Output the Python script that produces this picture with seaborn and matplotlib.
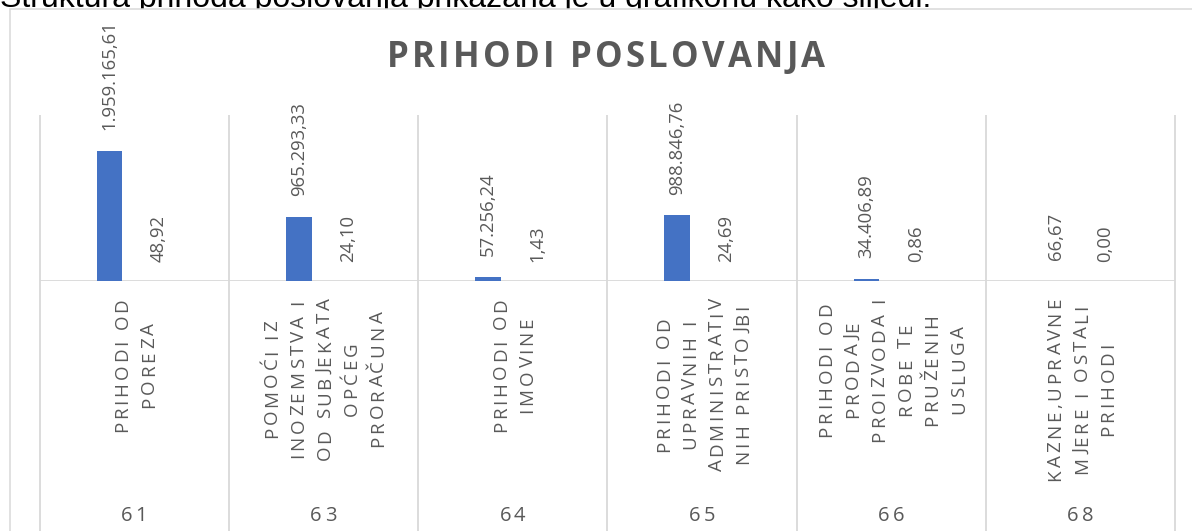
import numpy as np
import pandas as pd
import matplotlib
matplotlib.use("Agg")
import matplotlib.pyplot as plt
import seaborn as sns
from matplotlib.transforms import IdentityTransform, blended_transform_factory
from matplotlib.font_manager import FontProperties
from matplotlib.patches import Rectangle

# ---------------- data ----------------
codes = ["61", "63", "64", "65", "66", "68"]
names = [
    "PRIHODI OD\nPOREZA",
    "POMOĆI IZ\nINOZEMSTVA I\nOD SUBJEKATA\nOPĆEG\nPRORAČUNA",
    "PRIHODI OD\nIMOVINE",
    "PRIHODI OD\nUPRAVNIH I\nADMINISTRATIV\nNIH PRISTOJBI",
    "PRIHODI OD\nPRODAJE\nPROIZVODA I\nROBE TE\nPRUŽENIH\nUSLUGA",
    "KAZNE,UPRAVNE\nMJERE I OSTALI\nPRIHODI",
]
amounts = [1959165.61, 965293.33, 57256.24, 988846.76, 34406.89, 66.67]
shares = [48.92, 24.10, 1.43, 24.69, 0.86, 0.00]
series_names = ["Iznos", "Udio (%)"]
title = "PRIHODI POSLOVANJA"
caption = "Struktura prihoda poslovanja prikazana je u grafikonu kako slijedi."

# ---------------- style ----------------
W, H = 1192, 531
BLUE = "#4472C4"
ORANGE = "#ED7D31"
TXT = "#595959"
GRID = "#D9D9D9"
FAM = ["Open Sans", "DejaVu Sans"]

sns.set_theme(style="white")
plt.rcParams["font.family"] = FAM

df = pd.DataFrame({
    "code": codes * 2,
    "series": [series_names[0]] * len(codes) + [series_names[1]] * len(codes),
    "value": amounts + shares,
})

fig = plt.figure(figsize=(W / 100, H / 100), dpi=100)
fig.patch.set_facecolor("white")

# caption text above the chart (partly hidden by chart box)
fig.text(0, H - 7.5, caption, transform=IdentityTransform(), fontsize=23,
         family=["Liberation Sans", "DejaVu Sans"], color="black",
         ha="left", va="baseline", zorder=0.5)

# chart box
box = Rectangle((10 / W, -0.1), 1.2, 1 - 9 / H + 0.1, transform=fig.transFigure,
                facecolor="white", edgecolor=GRID, linewidth=1.1, zorder=0.8)
fig.patches.append(box)

ax_l, ax_r, ax_t, ax_b = 39.5, 1175, 115, 281
ax = fig.add_axes([ax_l / W, 1 - ax_b / H, (ax_r - ax_l) / W, (ax_b - ax_t) / H])
ax.set_zorder(2)
ax.patch.set_alpha(0)

sns.barplot(data=df, x="code", y="value", hue="series", order=codes,
            hue_order=series_names, palette=[BLUE, ORANGE], saturation=1,
            width=0.52, gap=0.48, linewidth=0, errorbar=None, legend=False, ax=ax)
ax.set_xlim(-0.5, len(codes) - 0.5)
ax.set_ylim(0, 2_500_000)
ax.set_axis_off()


def hr(v):
    s = f"{v:,.2f}"
    return s.replace(",", " ").replace(".", ",").replace(" ", ".")


ax.bar_label(ax.containers[0], labels=[hr(v) for v in amounts], rotation=90,
             padding=15, color=TXT, fontsize=13.3)
ax.bar_label(ax.containers[1], labels=[hr(v) for v in shares], rotation=90,
             padding=14, color=TXT, fontsize=13.3)

# baseline
ax.axhline(0, color=GRID, lw=1.3, zorder=0)

# vertical separators (grid + category boundaries)
tr = blended_transform_factory(ax.transData, fig.transFigure)
bounds = np.arange(len(codes) + 1) - 0.5
ax.vlines(bounds, 0, 1 - ax_t / H, transform=tr, colors=GRID, lw=1.3,
          clip_on=False, zorder=0)

# ---------------- letter-spaced text helpers ----------------
renderer = fig.canvas.get_renderer()
_cache = {}


def adv(ch, prop):
    key = (ch, prop.get_size_in_points(), prop.get_weight())
    if key not in _cache:
        w1, _, _ = renderer.get_text_width_height_descent("H" + ch + "H", prop, ismath=False)
        w0, _, _ = renderer.get_text_width_height_descent("HH", prop, ismath=False)
        _cache[key] = w1 - w0
    return _cache[key]


def line_len(s, prop, sp):
    return sum(adv(c, prop) for c in s) + sp * (len(s) - 1)


def draw_line(s, x, y, prop, sp, rotation, color):
    for c in s:
        fig.text(x, y, c, transform=IdentityTransform(), fontproperties=prop,
                 rotation=rotation, rotation_mode="anchor", ha="left",
                 va="baseline", color=color, zorder=3)
        step = adv(c, prop) + sp
        if rotation == 90:
            y += step
        else:
            x += step


# title
tprop = FontProperties(family=FAM, weight="bold", size=25)
tsp = 3.3
tl = line_len(title, tprop, tsp)
draw_line(title, 606 - tl / 2, H - 66.7, tprop, tsp, 0, TXT)

# category names (rotated, letter spaced, multi-line)
cprop = FontProperties(family=FAM, size=13.5)
csp = 2.9
pitch = 26.5
cap = 0.714 * cprop.get_size_in_points() * 100 / 72
block_top = H - 298
for i, nm in enumerate(names):
    cx = ax.transData.transform((i, 0))[0]
    lines = nm.split("\n")
    lens = [line_len(l, cprop, csp) for l in lines]
    mid = block_top - max(lens) / 2
    n = len(lines)
    for k, (l, ln) in enumerate(zip(lines, lens)):
        lx = cx + (k - (n - 1) / 2) * pitch + cap / 2
        draw_line(l, lx, mid - ln / 2, cprop, csp, 90, TXT)

# codes at bottom
nprop = FontProperties(family=FAM, size=14.5)
nsp = 3.0
for i, cd in enumerate(codes):
    cx = ax.transData.transform((i, 0))[0]
    ln = line_len(cd, nprop, nsp)
    draw_line(cd, cx - ln / 2, H - 521, nprop, nsp, 0, TXT)

fig.savefig("out.png", dpi=100)
